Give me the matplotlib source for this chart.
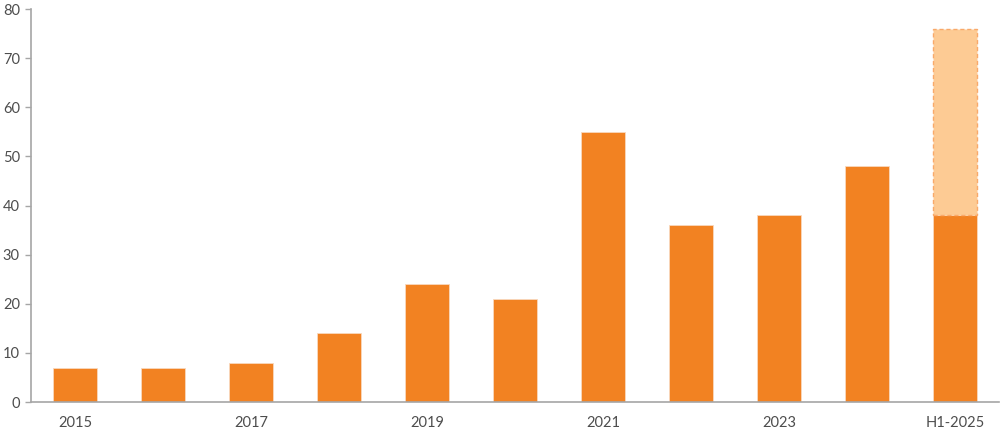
import matplotlib
matplotlib.use("Agg")
import matplotlib.pyplot as plt

categories = ["2015", "2016", "2017", "2018", "2019", "2020", "2021", "2022", "2023", "2024", "H1-2025"]
values = [7, 7, 8, 14, 24, 21, 55, 36, 38, 48, 38]
projected = [0, 0, 0, 0, 0, 0, 0, 0, 0, 0, 38]
tick_labels = ["2015", "", "2017", "", "2019", "", "2021", "", "2023", "", "H1-2025"]

plt.rcParams['font.family'] = ['Lato', 'DejaVu Sans']

fig = plt.figure(figsize=(10, 4.32), dpi=100)
ax = fig.add_axes([0.031, 0.0694, 0.968, 0.9097])

x = list(range(len(categories)))
ax.bar(x, values, width=0.5, color="#F28222", edgecolor="#F9D9BE", linewidth=0.6, zorder=2)
for xi, v, p in zip(x, values, projected):
    if p > 0:
        ax.bar(xi, p, bottom=v, width=0.5, color="#FDCB94", edgecolor="#F9A96A",
               linewidth=1.0, linestyle=(0, (3, 2)), zorder=2)

ax.set_xlim(-0.5, 10.5)
ax.set_ylim(0, 80)
ax.set_yticks(range(0, 81, 10))
ax.set_xticks(x)
ax.set_xticklabels(tick_labels)

for s in ["top", "right"]:
    ax.spines[s].set_visible(False)
for s in ["left", "bottom"]:
    ax.spines[s].set_color("#A6A6A6")
    ax.spines[s].set_linewidth(1.2)

ax.tick_params(axis="y", colors="#A6A6A6", labelcolor="#4D4D4D", labelsize=10.5, length=4, width=1.0, pad=4)
ax.tick_params(axis="x", length=0, labelcolor="#4D4D4D", labelsize=10.5, pad=10)

fig.savefig("out.png", dpi=100)
